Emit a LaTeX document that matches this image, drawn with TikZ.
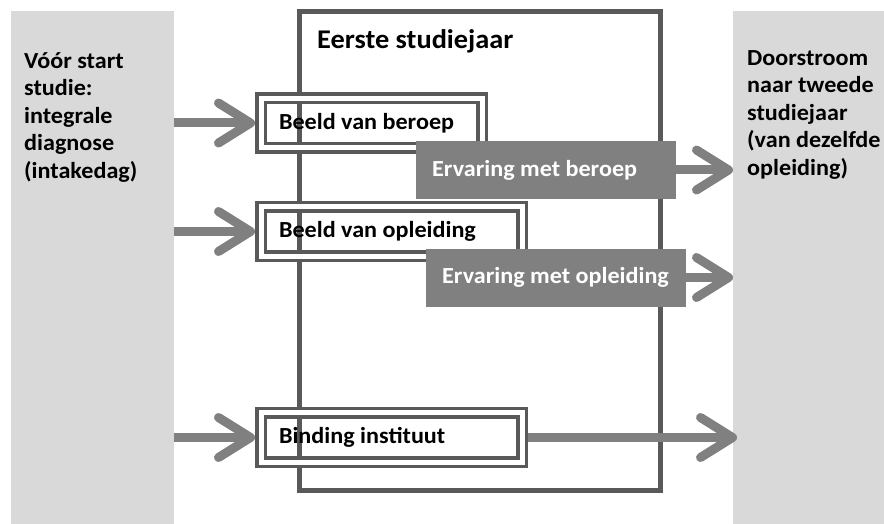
\documentclass[tikz,border=0pt]{standalone}
\usepackage{fontspec}
\setmainfont[FakeStretch=1.05]{Carlito}
\usetikzlibrary{arrows.meta}
\definecolor{lichtgrijs}{HTML}{D9D9D9}
\definecolor{kadergrijs}{HTML}{595959}
\definecolor{pijlgrijs}{HTML}{808080}
\tikzset{
  smal/.style={execute at begin node={\spaceskip=0pt\xspaceskip=0pt}},
  fase/.style={fill=lichtgrijs, draw=none, inner sep=0pt, anchor=north west},
  fasetekst/.style={smal, anchor=north west, align=left, inner sep=0pt, text width=140pt,
    font=\bfseries\fontsize{23}{27.5}\selectfont},
  blok/.style={smal, draw=kadergrijs, double=white, double distance=5pt, line width=3.5pt,
    minimum height=49.5pt, inner xsep=18pt, outer sep=6pt, align=left, anchor=west,
    font=\bfseries\fontsize{23}{27}\selectfont},
  ervaring/.style={smal, fill=pijlgrijs, text=white, minimum height=58pt, inner xsep=16pt,
    align=left, anchor=west, font=\bfseries\fontsize{23}{27}\selectfont},
  pijl/.style={draw=pijlgrijs, line width=9pt,
    -{Straight Barb[length=32pt, width=40pt, round]}}
}
\begin{document}
\begin{tikzpicture}[x=1pt, y=-1pt]
\useasboundingbox (0,0) rectangle (884,524);
\node[fase, minimum width=163pt, minimum height=513pt] (voor) at (11,11) {};
\node[fase, minimum width=151pt, minimum height=513pt] (na) at (733,11) {};
\node[fasetekst] (voortekst) at (24,52) {V\'o\'or start\\studie:\\integrale\\diagnose\\(intakedag)};
\node[fasetekst] (natekst) at (747,50) {Doorstroom\\naar tweede\\studiejaar\\(van dezelfde\\opleiding)};
\draw[kadergrijs, line width=5pt] (299,12) rectangle (660,490);
\node[anchor=base west, inner sep=0pt, font=\bfseries\fontsize{27}{32}\selectfont] (jaar) at (317,49) {Eerste studiejaar};
\node[blok, text width=185pt] (beroep) at (255,123) {Beeld van beroep};
\node[blok, text width=225pt] (opleiding) at (255,231.5) {Beeld van opleiding};
\node[blok, text width=225pt] (binding) at (255,437.5) {Binding instituut};
\node[ervaring, text width=228pt] (ervberoep) at (416,170) {Ervaring met beroep};
\node[ervaring, text width=228pt] (ervopleiding) at (426,277.5) {Ervaring met opleiding};
\draw[pijl] (voor.east |- beroep.west) -- (beroep.west);
\draw[pijl] (voor.east |- opleiding.west) -- (opleiding.west);
\draw[pijl] (voor.east |- binding.west) -- (binding.west);
\draw[pijl] (ervberoep.east) -- (na.west |- ervberoep.east);
\draw[pijl] (ervopleiding.east) -- (na.west |- ervopleiding.east);
\draw[pijl] (binding.east) -- ([xshift=4pt]na.west |- binding.east);
\end{tikzpicture}
\end{document}
